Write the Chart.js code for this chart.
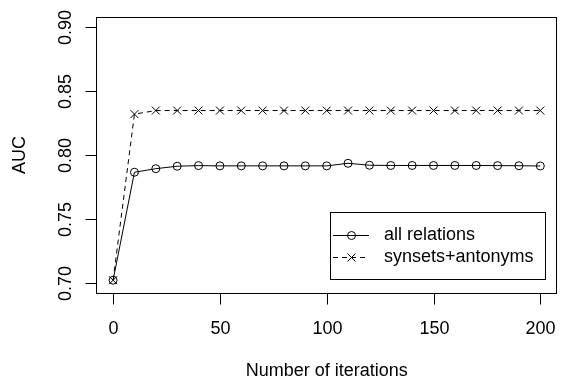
<!DOCTYPE html>
<html>
<head>
<meta charset="utf-8">
<script src="https://cdn.jsdelivr.net/npm/chart.js@4"></script>
<style>
html,body{margin:0;padding:0;background:#fff;}
#wrap{width:564px;height:379px;position:relative;}
</style>
</head>
<body>
<div id="wrap"><canvas id="c" width="564" height="379"></canvas></div>
<script>
const iterations = [0,10,20,30,40,50,60,70,80,90,100,110,120,130,140,150,160,170,180,190,200];
const allRelations = [0.702,0.7865,0.7893,0.7912,0.7917,0.7915,0.7915,0.7915,0.7915,0.7915,0.7915,0.7935,0.7920,0.7918,0.7918,0.7918,0.7918,0.7918,0.7917,0.7916,0.7914];
const synsetsAntonyms = [0.702,0.832,0.8348,0.8348,0.8348,0.8348,0.8348,0.8348,0.8348,0.8348,0.8348,0.8348,0.8348,0.8348,0.8348,0.8348,0.8348,0.8348,0.8348,0.8348,0.8348];
const seriesLabels = ["all relations","synsets+antonyms"];
const xTicks = [0,50,100,150,200];
const yTicks = [0.70,0.75,0.80,0.85,0.90];
const xTitle = "Number of iterations";
const yTitle = "AUC";

const FONT = '18px "Liberation Sans", Arial, sans-serif';

const rAxesPlugin = {
  id: 'rAxes',
  afterDraw(chart) {
    const ctx = chart.ctx;
    const a = chart.chartArea;
    const xs = chart.scales.x, ys = chart.scales.y;
    ctx.save();
    ctx.strokeStyle = '#000';
    ctx.fillStyle = '#000';
    ctx.lineWidth = 1;
    // box
    ctx.strokeRect(Math.round(a.left)+0.5, Math.round(a.top)+0.5, Math.round(a.right-a.left)-1, Math.round(a.bottom-a.top));
    ctx.font = FONT;
    // x axis
    const bx = Math.round(a.bottom)+0.5;
    ctx.beginPath();
    ctx.moveTo(Math.round(xs.getPixelForValue(xTicks[0]))+0.5, bx);
    ctx.lineTo(Math.round(xs.getPixelForValue(xTicks[xTicks.length-1]))+0.5, bx);
    ctx.stroke();
    ctx.textAlign = 'center';
    ctx.textBaseline = 'alphabetic';
    xTicks.forEach(v => {
      const px = Math.round(xs.getPixelForValue(v))+0.5;
      ctx.beginPath();
      ctx.moveTo(px, bx);
      ctx.lineTo(px, bx+11);
      ctx.stroke();
      ctx.fillText(String(v), px, 334);
    });
    // y axis
    const lx = Math.round(a.left)+0.5;
    yTicks.forEach(v => {
      const py = Math.round(ys.getPixelForValue(v))+0.5;
      ctx.beginPath();
      ctx.moveTo(lx, py);
      ctx.lineTo(lx-11, py);
      ctx.stroke();
      ctx.save();
      ctx.translate(70.5, py);
      ctx.rotate(-Math.PI/2);
      ctx.textAlign = 'center';
      ctx.textBaseline = 'alphabetic';
      ctx.fillText(v.toFixed(2), 0, 0);
      ctx.restore();
    });
    // titles
    ctx.textAlign = 'center';
    ctx.fillText(xTitle, (a.left+a.right)/2, 376);
    ctx.save();
    ctx.translate(25, (a.top+a.bottom)/2);
    ctx.rotate(-Math.PI/2);
    ctx.fillText(yTitle, 0, 0);
    ctx.restore();

    // legend
    const L = 330.5, T = 212.5, W = 215, H = 67;
    ctx.strokeRect(L, T, W, H);
    const rows = [235, 257];
    chart.data.datasets.forEach((ds, i) => {
      const y = rows[i] + 0.5;
      ctx.save();
      ctx.setLineDash(ds.borderDash || []);
      ctx.beginPath();
      ctx.moveTo(333, y);
      ctx.lineTo(369, y);
      ctx.stroke();
      ctx.restore();
      const cx = 351.5;
      ctx.beginPath();
      if (ds.pointStyle === 'circle') {
        ctx.arc(cx, y, 4, 0, Math.PI*2);
      } else {
        ctx.moveTo(cx-4, y-4); ctx.lineTo(cx+4, y+4);
        ctx.moveTo(cx+4, y-4); ctx.lineTo(cx-4, y+4);
      }
      ctx.stroke();
      ctx.textAlign = 'left';
      ctx.textBaseline = 'middle';
      ctx.fillText(ds.label, 384, y);
    });
    ctx.restore();
  }
};

new Chart(document.getElementById('c'), {
  type: 'line',
  data: {
    datasets: [
      {
        label: seriesLabels[0],
        data: iterations.map((x,i)=>({x:x,y:allRelations[i]})),
        borderColor: '#000',
        borderWidth: 1,
        backgroundColor: 'rgba(0,0,0,0)',
        pointStyle: 'circle',
        pointRadius: 4,
        pointBorderWidth: 1,
        pointBorderColor: '#000',
        pointBackgroundColor: 'rgba(0,0,0,0)',
        tension: 0,
        fill: false
      },
      {
        label: seriesLabels[1],
        data: iterations.map((x,i)=>({x:x,y:synsetsAntonyms[i]})),
        borderColor: '#000',
        borderWidth: 1,
        borderDash: [5,4],
        backgroundColor: 'rgba(0,0,0,0)',
        pointStyle: 'crossRot',
        pointRadius: 5.6,
        pointBorderWidth: 1,
        pointBorderColor: '#000',
        pointBackgroundColor: 'rgba(0,0,0,0)',
        tension: 0,
        fill: false
      }
    ]
  },
  options: {
    responsive: false,
    animation: false,
    devicePixelRatio: 1,
    layout: { padding: { left: 96, right: 1, top: 17, bottom: 86 } },
    plugins: { legend: { display: false }, tooltip: { enabled: false } },
    scales: {
      x: { type: 'linear', min: -8, max: 208, display: false },
      y: { type: 'linear', min: 0.692, max: 0.908, display: false }
    }
  },
  plugins: [rAxesPlugin]
});
</script>
</body>
</html>
